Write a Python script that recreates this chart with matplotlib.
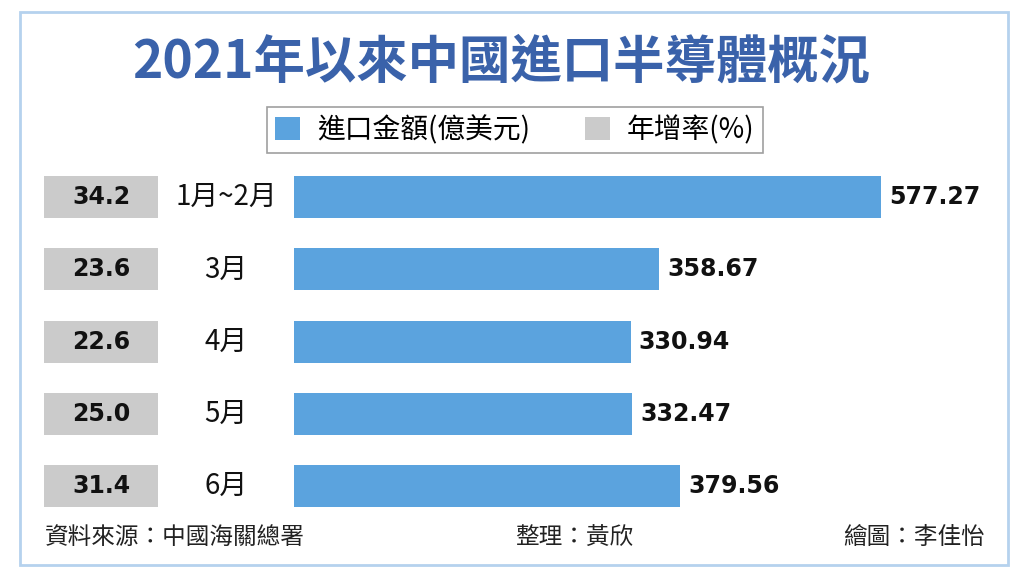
import matplotlib
matplotlib.use('Agg')
import matplotlib.pyplot as plt
from matplotlib.patches import Patch, Rectangle

plt.rcParams['font.family'] = ['Noto Sans CJK TC', 'DejaVu Sans']

months = ['1月~2月', '3月', '4月', '5月', '6月']
amount = [577.27, 358.67, 330.94, 332.47, 379.56]   # 進口金額(億美元)
growth = [34.2, 23.6, 22.6, 25.0, 31.4]            # 年增率(%)

blue = '#5ba3de'
gray = '#cbcbcb'
W, H = 1024, 578

fig = plt.figure(figsize=(W / 100, H / 100), dpi=100)
fig.patch.set_facecolor('white')

# 外框
fig.patches.append(Rectangle((20 / W, 1 - 565 / H), 988 / W, 553 / H, transform=fig.transFigure,
                             fill=False, edgecolor='#b5d2ee', linewidth=2))

fig.text(501 / W, 1 - 62 / H, '2021年以來中國進口半導體概況', ha='center', va='center',
         fontsize=37, fontweight='bold', color='#3a62aa')

# 主圖：進口金額
row_top, row_h = 161, 72.25
bottom = 1 - (row_top + row_h * 5) / H
height = row_h * 5 / H
ax = fig.add_axes([294 / W, bottom, 706 / W, height])
y = range(len(months))
ax.barh(y, amount, height=0.58, color=blue)
ax.set_xlim(0, 706 / 1.017)
ax.set_ylim(len(months) - 0.5, -0.5)
ax.axis('off')
for i, v in enumerate(amount):
    ax.text(v + 8, i, f'{v:.2f}', ha='left', va='center', fontsize=17, fontweight='bold',
            color='#111111', family='DejaVu Sans')
    ax.text(-67, i, months[i], ha='center', va='center', fontsize=20, color='#111111')

# 左側：年增率
ax2 = fig.add_axes([44 / W, bottom, 114 / W, height])
ax2.barh(y, [1] * len(growth), height=0.58, color=gray)
ax2.set_xlim(0, 1)
ax2.set_ylim(len(months) - 0.5, -0.5)
ax2.axis('off')
for i, g in enumerate(growth):
    ax2.text(0.5, i, f'{g:.1f}', ha='center', va='center', fontsize=17, fontweight='bold',
             color='#111111', family='DejaVu Sans')

handles = [Patch(facecolor=blue, label='進口金額(億美元)'), Patch(facecolor=gray, label='年增率(%)')]
leg = fig.legend(handles=handles, loc='center', bbox_to_anchor=(515 / W, 1 - 130 / H), ncol=2,
                 fontsize=20, frameon=True, fancybox=False, edgecolor='#888888',
                 handlelength=0.9, handleheight=0.9, handletextpad=0.6, columnspacing=2.0,
                 borderpad=0.3, borderaxespad=0)
leg.get_frame().set_linewidth(1.2)
leg._legend_box.sep = 4
leg.get_frame().set_boxstyle('square', pad=0.0)

fig.text(45 / W, 1 - 537 / H, '資料來源：中國海關總署', ha='left', va='center', fontsize=17, color='#222222')
fig.text(515 / W, 1 - 537 / H, '整理：黃欣', ha='left', va='center', fontsize=17, color='#222222')
fig.text(985 / W, 1 - 537 / H, '繪圖：李佳怡', ha='right', va='center', fontsize=17, color='#222222')

fig.savefig('out.png', dpi=100)
